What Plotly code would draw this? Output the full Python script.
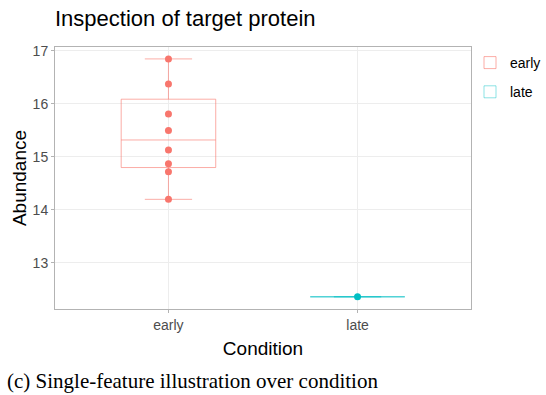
import plotly.graph_objects as go

# Observed abundances per condition
early_values = [16.85, 16.375, 15.81, 15.50, 15.13, 14.87, 14.72, 14.20]
late_values = [12.36]

# Box summaries (q1, median, q3, lower whisker, upper whisker)
conditions = ["early", "late"]
q1 = [14.80, 12.36]
median = [15.32, 12.36]
q3 = [16.09, 12.36]
lower = [14.20, 12.36]
upper = [16.85, 12.36]

point_colors = ["#F8766D", "#00BFC4"]
line_colors = ["rgba(248,118,109,0.6)", "rgba(0,191,196,0.45)"]
samples = [early_values, late_values]

fig = go.Figure()
for i, cond in enumerate(conditions):
    fig.add_trace(go.Box(
        x=[cond], q1=[q1[i]], median=[median[i]], q3=[q3[i]],
        lowerfence=[lower[i]], upperfence=[upper[i]],
        name=cond, legendgroup=cond, width=0.5, whiskerwidth=0.5,
        line=dict(color=line_colors[i], width=1),
        fillcolor="rgba(255,255,255,0)", boxpoints=False,
        hoverinfo="skip",
    ))
    fig.add_trace(go.Scatter(
        x=[cond] * len(samples[i]), y=samples[i], mode="markers",
        marker=dict(color=point_colors[i], size=7),
        legendgroup=cond, showlegend=False,
    ))

grid = "#EDEDED"
fig.update_layout(
    width=546, height=395,
    margin=dict(l=55, r=75, t=47, b=86, autoexpand=False),
    paper_bgcolor="white", plot_bgcolor="white",
    font=dict(family="Liberation Sans, Arial, sans-serif", color="#000000"),
    title=dict(text="Inspection of target protein", x=0, xref="paper",
               y=0.972, yanchor="top",
               font=dict(size=22, color="#000000")),
    showlegend=True,
    legend=dict(x=1.012, xref="container", y=1.0, xanchor="right", yanchor="top",
                font=dict(size=14, color="#000000"),
                bgcolor="rgba(0,0,0,0)",
                tracegroupgap=8, borderwidth=0),
    xaxis=dict(
        type="category", categoryorder="array", categoryarray=conditions,
        range=[-0.6, 1.6],
        title=dict(text="Condition", font=dict(size=19, color="#000000"), standoff=9),
        tickfont=dict(size=14, color="#4D4D4D"),
        showgrid=True, gridcolor=grid, gridwidth=1,
        ticks="outside", ticklen=3, tickcolor="#B3B3B3",
        showline=True, linecolor="#B3B3B3", linewidth=1, mirror=True,
        zeroline=False,
    ),
    yaxis=dict(
        range=[12.13, 17.075],
        tickvals=[13, 14, 15, 16, 17],
        title=dict(text="Abundance", font=dict(size=19, color="#000000"), standoff=0),
        tickfont=dict(size=14, color="#4D4D4D"),
        showgrid=True, gridcolor=grid, gridwidth=1,
        ticks="outside", ticklen=3, tickcolor="#B3B3B3",
        showline=True, linecolor="#B3B3B3", linewidth=1, mirror=True,
        zeroline=False,
    ),
)

fig.add_annotation(
    text="(c) Single-feature illustration over condition",
    xref="paper", yref="paper", x=-50 / 416, y=-72 / 262,
    xanchor="left", yanchor="middle", showarrow=False,
    font=dict(family="Liberation Serif, Times New Roman, serif", size=21, color="#000000"),
)

fig.write_html("out.html")
